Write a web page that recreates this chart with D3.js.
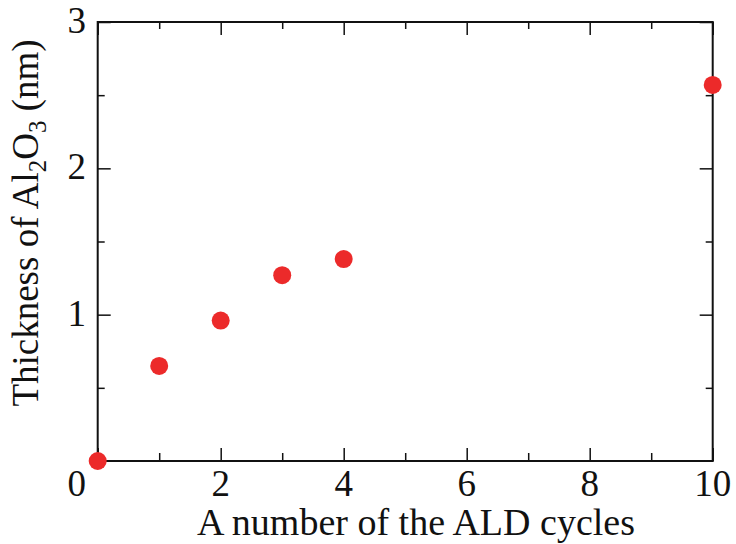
<!DOCTYPE html>
<html>
<head>
<meta charset="utf-8">
<script src="https://cdn.jsdelivr.net/npm/d3@7"></script>
<style>
  body { margin: 0; background: #fff; }
  text { font-family: "Liberation Serif", "Times New Roman", serif; fill: #111; }
</style>
</head>
<body>
<div id="chart"></div>
<script>
// data
var cycles = [0, 1, 2, 3, 4, 10];
var thickness = [0, 0.65, 0.96, 1.27, 1.38, 2.57];
var xTicks = [0, 2, 4, 6, 8, 10];
var xMinor = [1, 3, 5, 7, 9];
var yTicks = [1, 2, 3];
var yMinor = [0.5, 1.5, 2.5];

var w = 736, h = 544;
var pLeft = 97.7, pRight = 712.7, pTop = 22, pBottom = 461;
var dotColor = '#ec2a2a';

var svg = d3.select('#chart').append('svg')
  .attr('width', w).attr('height', h);

var xScale = d3.scaleLinear().domain([0, 10]).range([pLeft, pRight]);
var yScale = d3.scaleLinear().domain([0, 3]).range([pBottom, pTop]);

// inward ticks on all four sides
function tickAxis(axisFn, scale, vals, len, pos) {
  var g = svg.append('g').attr('transform', pos)
    .call(axisFn(scale).tickValues(vals).tickSize(len).tickFormat(''));
  g.select('.domain').remove();
  g.selectAll('.tick line').attr('stroke', '#111').attr('stroke-width', 1.5);
}
tickAxis(d3.axisTop, xScale, xTicks, 13, 'translate(0,' + pBottom + ')');
tickAxis(d3.axisTop, xScale, xMinor, 8, 'translate(0,' + pBottom + ')');
tickAxis(d3.axisBottom, xScale, xTicks, 13, 'translate(0,' + pTop + ')');
tickAxis(d3.axisBottom, xScale, xMinor, 7, 'translate(0,' + pTop + ')');
tickAxis(d3.axisRight, yScale, yTicks, 13, 'translate(' + pLeft + ',0)');
tickAxis(d3.axisRight, yScale, yMinor, 7, 'translate(' + pLeft + ',0)');
tickAxis(d3.axisLeft, yScale, yTicks, 13, 'translate(' + pRight + ',0)');
tickAxis(d3.axisLeft, yScale, yMinor, 7, 'translate(' + pRight + ',0)');

// frame
svg.append('rect')
  .attr('x', pLeft).attr('y', pTop)
  .attr('width', pRight - pLeft).attr('height', pBottom - pTop)
  .attr('fill', 'none').attr('stroke', '#111').attr('stroke-width', 2);

// tick labels
svg.selectAll('.xlab').data(xTicks).enter().append('text')
  .attr('class', 'xlab')
  .attr('x', function(d) { return d == 0 ? 86 : xScale(d); })
  .attr('y', 496)
  .attr('text-anchor', function(d) { return d == 0 ? 'end' : 'middle'; })
  .attr('font-size', 37)
  .text(function(d) { return d; });

svg.selectAll('.ylab').data(yTicks).enter().append('text')
  .attr('class', 'ylab')
  .attr('x', 86)
  .attr('y', function(d) { return yScale(d) + 11; })
  .attr('text-anchor', 'end')
  .attr('font-size', 37)
  .text(function(d) { return d; });

// axis titles
svg.append('text')
  .attr('x', 416).attr('y', 535)
  .attr('text-anchor', 'middle')
  .attr('font-size', 38)
  .text('A number of the ALD cycles');

var yt = svg.append('text')
  .attr('transform', 'translate(38,223) rotate(-90)')
  .attr('text-anchor', 'middle')
  .attr('font-size', 37);
yt.append('tspan').text('Thickness of Al');
yt.append('tspan').attr('dy', 8).attr('font-size', 25).text('2');
yt.append('tspan').attr('dy', -8).text('O');
yt.append('tspan').attr('dy', 8).attr('font-size', 25).text('3');
yt.append('tspan').attr('dy', -8).text(' (nm)');

// points
svg.selectAll('.pt').data(cycles).enter().append('circle')
  .attr('class', 'pt')
  .attr('cx', function(d) { return xScale(d); })
  .attr('cy', function(d, i) { return yScale(thickness[i]); })
  .attr('r', 9)
  .attr('fill', dotColor);
</script>
</body>
</html>
